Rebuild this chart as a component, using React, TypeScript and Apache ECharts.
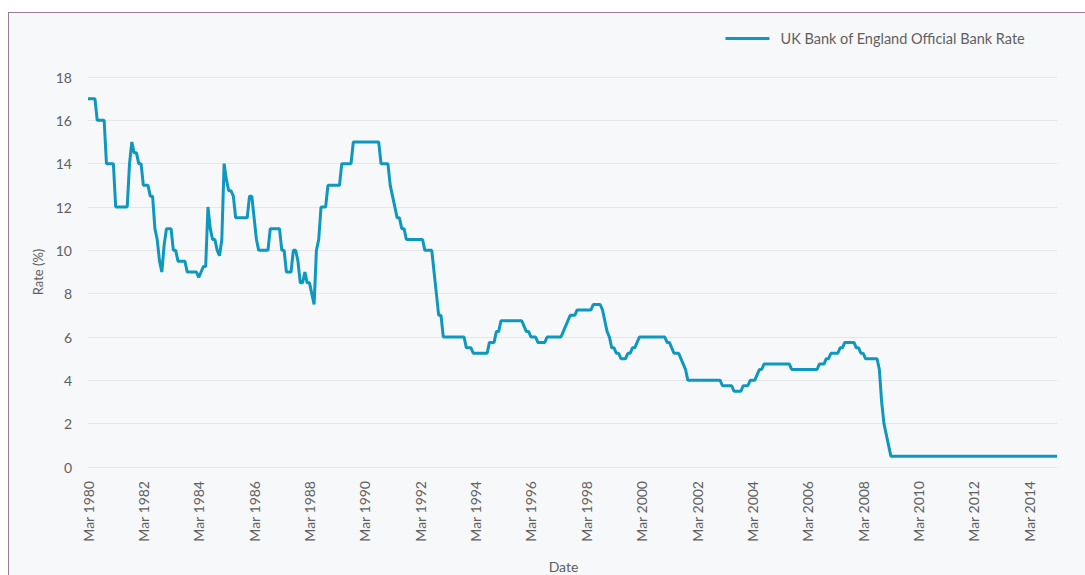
import { useEffect, useRef } from "react";
import * as echarts from "echarts";

const monthNames = ["Jan", "Feb", "Mar", "Apr", "May", "Jun", "Jul", "Aug", "Sep", "Oct", "Nov", "Dec"];
const firstYear = 1980;
const firstMonth = 2; // March

// End-of-month official Bank Rate (%), Mar 1980 - Dec 1989
const rates1980s: number[] = [
  17, 17, 17, 17, 16, 16, 16, 16, 14, 14,
  14, 14, 12, 12, 12, 12, 12, 12, 14, 15, 14.5, 14.5,
  14, 14, 13, 13, 13, 12.5, 12.5, 11, 10.5, 9.5, 9, 10.25,
  11, 11, 11, 10, 10, 9.5, 9.5, 9.5, 9.5, 9, 9, 9,
  9, 9, 8.75, 9, 9.25, 9.25, 12, 11, 10.5, 10.5, 10, 9.75,
  10.5, 14, 13.25, 12.75, 12.75, 12.5, 11.5, 11.5, 11.5, 11.5, 11.5, 11.5,
  12.5, 12.5, 11.5, 10.5, 10, 10, 10, 10, 10, 11, 11, 11,
  11, 11, 10, 10, 9, 9, 9, 10, 10, 9.5, 8.5, 8.5,
  9, 8.5, 8.5, 8, 7.5, 10, 10.5, 12, 12, 12, 13, 13,
  13, 13, 13, 13, 14, 14, 14, 14, 14, 15, 15, 15,
];

// Jan 1990 - Dec 1999
const rates1990s: number[] = [
  15, 15, 15, 15, 15, 15, 15, 15, 15, 14, 14, 14,
  14, 13, 12.5, 12, 11.5, 11.5, 11, 11, 10.5, 10.5, 10.5, 10.5,
  10.5, 10.5, 10.5, 10.5, 10, 10, 10, 10, 9, 8, 7, 7,
  6, 6, 6, 6, 6, 6, 6, 6, 6, 6, 5.5, 5.5,
  5.5, 5.25, 5.25, 5.25, 5.25, 5.25, 5.25, 5.25, 5.75, 5.75, 5.75, 6.25,
  6.25, 6.75, 6.75, 6.75, 6.75, 6.75, 6.75, 6.75, 6.75, 6.75, 6.75, 6.5,
  6.25, 6.25, 6, 6, 6, 5.75, 5.75, 5.75, 5.75, 6, 6, 6,
  6, 6, 6, 6, 6.25, 6.5, 6.75, 7, 7, 7, 7.25, 7.25,
  7.25, 7.25, 7.25, 7.25, 7.25, 7.5, 7.5, 7.5, 7.5, 7.25, 6.75, 6.25,
  6, 5.5, 5.5, 5.25, 5.25, 5, 5, 5, 5.25, 5.25, 5.5, 5.5,
];

// Jan 2000 - Dec 2009
const rates2000s: number[] = [
  5.75, 6, 6, 6, 6, 6, 6, 6, 6, 6, 6, 6,
  6, 5.75, 5.75, 5.5, 5.25, 5.25, 5.25, 5, 4.75, 4.5, 4, 4,
  4, 4, 4, 4, 4, 4, 4, 4, 4, 4, 4, 4,
  4, 3.75, 3.75, 3.75, 3.75, 3.75, 3.5, 3.5, 3.5, 3.5, 3.75, 3.75,
  3.75, 4, 4, 4, 4.25, 4.5, 4.5, 4.75, 4.75, 4.75, 4.75, 4.75,
  4.75, 4.75, 4.75, 4.75, 4.75, 4.75, 4.75, 4.5, 4.5, 4.5, 4.5, 4.5,
  4.5, 4.5, 4.5, 4.5, 4.5, 4.5, 4.5, 4.75, 4.75, 4.75, 5, 5,
  5.25, 5.25, 5.25, 5.25, 5.5, 5.5, 5.75, 5.75, 5.75, 5.75, 5.75, 5.5,
  5.5, 5.25, 5.25, 5, 5, 5, 5, 5, 5, 4.5, 3, 2,
  1.5, 1, 0.5, 0.5, 0.5, 0.5, 0.5, 0.5, 0.5, 0.5, 0.5, 0.5,
];

// Jan 2010 - Mar 2015
const rates2010s: number[] = [
  0.5, 0.5, 0.5, 0.5, 0.5, 0.5, 0.5, 0.5, 0.5, 0.5, 0.5, 0.5,
  0.5, 0.5, 0.5, 0.5, 0.5, 0.5, 0.5, 0.5, 0.5, 0.5, 0.5, 0.5,
  0.5, 0.5, 0.5, 0.5, 0.5, 0.5, 0.5, 0.5, 0.5, 0.5, 0.5, 0.5,
  0.5, 0.5, 0.5, 0.5, 0.5, 0.5, 0.5, 0.5, 0.5, 0.5, 0.5, 0.5,
  0.5, 0.5, 0.5, 0.5, 0.5, 0.5, 0.5, 0.5, 0.5, 0.5, 0.5, 0.5,
  0.5, 0.5, 0.5,
];

const seriesName = "UK Bank of England Official Bank Rate";
const yAxisTitle = "Rate (%)";
const xAxisTitle = "Date";
const labelEvery = 24;

const rates: number[] = [...rates1980s, ...rates1990s, ...rates2000s, ...rates2010s];
const categories: string[] = rates.map((_, i) => {
  const m = firstMonth + i;
  return `${monthNames[m % 12]} ${firstYear + Math.floor(m / 12)}`;
});

const FONT = "Lato, 'Open Sans', sans-serif";
const LINE_COLOR = "#0e97bf";
const TEXT_COLOR = "#5f5f5f";

export default function App() {
  const ref = useRef<HTMLDivElement>(null);

  useEffect(() => {
    if (!ref.current) return;
    const chart = echarts.init(ref.current, undefined, { renderer: "svg" });
    chart.setOption({
      animation: false,
      textStyle: { fontFamily: FONT },
      grid: {
        left: 88,
        right: 28,
        top: 77,
        bottom: 108,
        containLabel: false,
        outerBoundsMode: "none",
      },
      legend: {
        data: [seriesName],
        right: 55,
        top: 26,
        icon: "rect",
        itemWidth: 44,
        itemHeight: 3,
        textStyle: { color: TEXT_COLOR, fontSize: 14.5, fontFamily: FONT, padding: [0, 0, 0, 6] },
      },
      xAxis: {
        type: "category",
        data: categories,
        boundaryGap: false,
        axisLine: { show: false },
        axisTick: { show: false },
        splitLine: { show: false },
        axisLabel: {
          interval: (i: number) => i % labelEvery === 0 && i < categories.length - 1,
          rotate: 90,
          margin: 14,
          color: TEXT_COLOR,
          fontSize: 14,
          fontFamily: FONT,
        },
        name: xAxisTitle,
        nameLocation: "middle",
        nameGap: 92,
        nameTextStyle: { color: TEXT_COLOR, fontSize: 14, fontFamily: FONT, padding: [0, 18, 0, 0] },
      },
      yAxis: {
        type: "value",
        min: 0,
        max: 18,
        interval: 2,
        axisLine: { show: false },
        axisTick: { show: false },
        splitLine: { lineStyle: { color: "#e5e6e8", width: 1 } },
        axisLabel: { color: TEXT_COLOR, fontSize: 14, margin: 16, fontFamily: FONT },
        name: yAxisTitle,
        nameLocation: "middle",
        nameGap: 34,
        nameTextStyle: { color: TEXT_COLOR, fontSize: 13, fontFamily: FONT },
      },
      series: [
        {
          name: seriesName,
          type: "line",
          data: rates,
          showSymbol: false,
          symbol: "none",
          color: LINE_COLOR,
          lineStyle: { color: LINE_COLOR, width: 3 },
        },
      ],
    });
    return () => chart.dispose();
  }, []);

  return (
    <div>
      <div
        style={{
          position: "absolute",
          left: 8,
          top: 12,
          width: 1085 - 8,
          height: 575 - 12,
          background: "#f7f8fa",
          borderTop: "1.5px solid #9a7a9b",
          borderLeft: "1.5px solid #9a7a9b",
          boxSizing: "border-box",
        }}
      />
      <div
        ref={ref}
        style={{ position: "absolute", left: 0, top: 0, width: 1085, height: 575 }}
      />
    </div>
  );
}
